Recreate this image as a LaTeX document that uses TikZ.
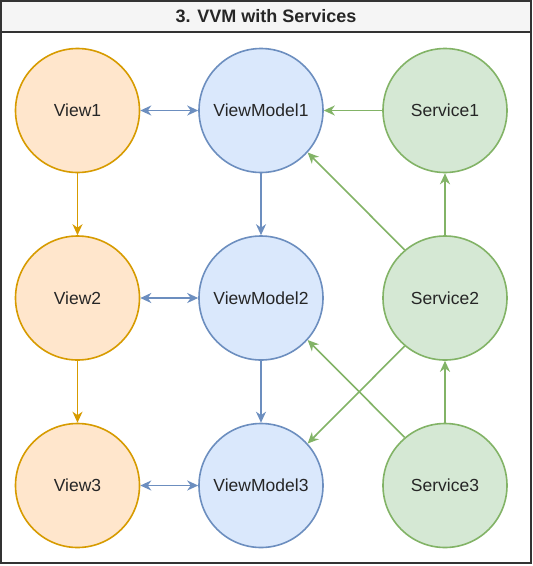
\documentclass[tikz,border=0pt]{standalone}
\usepackage{fontspec}
\setmainfont{Liberation Sans}
\usetikzlibrary{arrows.meta}
\definecolor{vfill}{HTML}{FFE6CC}\definecolor{vline}{HTML}{D79B00}
\definecolor{mfill}{HTML}{DAE8FC}\definecolor{mline}{HTML}{6C8EBF}
\definecolor{sfill}{HTML}{D5E8D4}\definecolor{sline}{HTML}{82B366}
\definecolor{frame}{HTML}{333333}\definecolor{head}{HTML}{F5F5F5}
\tikzset{
  circ/.style={circle,minimum size=124pt,inner sep=0pt,line width=1.6pt,font=\fontsize{17.5}{21}\selectfont,text=black!85},
  viewc/.style={circ,draw=vline,fill=vfill},
  vmc/.style={circ,draw=mline,fill=mfill},
  svc/.style={circ,draw=sline,fill=sfill},
  oarr/.style={draw=vline,line width=1.6pt,-{Stealth[length=11pt,width=10pt,inset=3.5pt]}},
  barr/.style={draw=mline,line width=1.6pt,-{Stealth[length=11pt,width=10pt,inset=3.5pt]}},
  bbarr/.style={draw=mline,line width=1.6pt,{Stealth[length=11pt,width=10pt,inset=3.5pt]}-{Stealth[length=11pt,width=10pt,inset=3.5pt]}},
  garr/.style={draw=sline,line width=1.6pt,-{Stealth[length=11pt,width=10pt,inset=3.5pt]}},
}
\begin{document}
\begin{tikzpicture}[x=1pt,y=-1pt]
\useasboundingbox (0,0) rectangle (533,566);
\fill[white] (0,0) rectangle (533,566);
\draw[frame,line width=2pt,fill=head] (1,1) rectangle (530.5,32);
\draw[frame,line width=2pt] (1,32) rectangle (530.5,562.5);
\node[font=\bfseries\fontsize{18}{21}\selectfont,text=black!85] (title) at (266,16.5) {3. VVM with Services};
\node[viewc] (v1) at (77.5,110.5) {View1};
\node[viewc] (v2) at (77.5,298) {View2};
\node[viewc] (v3) at (77.5,485.5) {View3};
\node[vmc] (m1) at (261,110.5) {ViewModel1};
\node[vmc] (m2) at (261,298) {ViewModel2};
\node[vmc] (m3) at (261,485.5) {ViewModel3};
\node[svc] (s1) at (445,110.5) {Service1};
\node[svc] (s2) at (445,298) {Service2};
\node[svc] (s3) at (445,485.5) {Service3};
\draw[bbarr] (v1) -- (m1);
\draw[bbarr] (v2) -- (m2);
\draw[bbarr] (v3) -- (m3);
\draw[oarr] (v1) -- (v2);
\draw[oarr] (v2) -- (v3);
\draw[barr] (m1) -- (m2);
\draw[barr] (m2) -- (m3);
\draw[garr] (s1) -- (m1);
\draw[garr] (s2) -- (s1);
\draw[garr] (s3) -- (s2);
\draw[garr] (s2.130) -- (m1.-42);
\draw[garr] (s2.-130) -- (m3.42);
\draw[garr] (s3.130) -- (m2.-42);
\end{tikzpicture}
\end{document}
